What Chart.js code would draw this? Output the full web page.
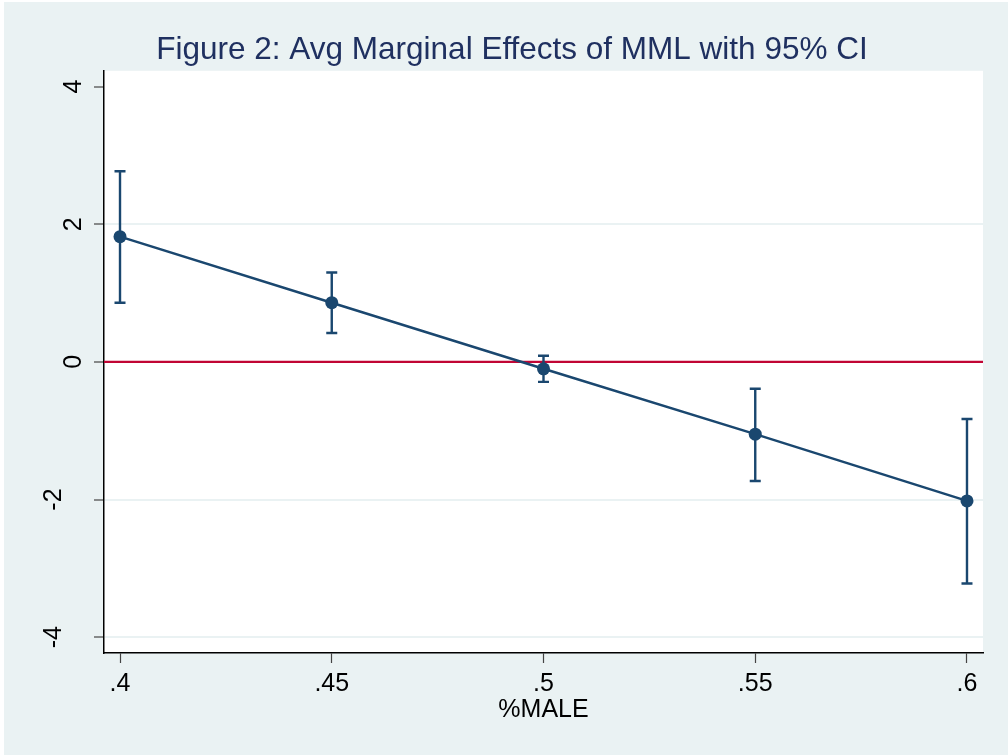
<!DOCTYPE html>
<html>
<head>
<meta charset="utf-8">
<script src="https://cdn.jsdelivr.net/npm/chart.js@4.4.0/dist/chart.umd.min.js"></script>
<style>
  html, body { margin: 0; padding: 0; background: #fff; }
  #wrap { position: absolute; left: 4px; top: 2px; }
</style>
</head>
<body>
<div id="wrap"><canvas id="chart" width="1004" height="753"></canvas></div>
<script>
'use strict';

// %MALE values where the effect is evaluated
var pctMale = [0.40, 0.45, 0.50, 0.55, 0.60];
// avg marginal effect of MML
var margEffect = [1.82, 0.86, -0.10, -1.05, -2.02];
// 95% CI bounds
var ciLower = [0.86, 0.42, -0.29, -1.73, -3.22];
var ciUpper = [2.77, 1.30, 0.09, -0.39, -0.83];

// axis ticks
var xTicks = [0.40, 0.45, 0.50, 0.55, 0.60];
var xTickLabels = ['.4', '.45', '.5', '.55', '.6'];
var yTicks = [-4, -2, 0, 2, 4];
var yTickLabels = ['-4', '-2', '0', '2', '4'];
var refValue = 0;

var NAVY = '#1a476f';
var CRANBERRY = '#c10534';
var BG = '#eaf2f3';
var FONT = '"Liberation Sans", Arial, Helvetica, sans-serif';

(function(){

	// figure background + white plot region
	var background = {
		id: 'background',
		beforeDraw: function(chart){
			var ctx = chart.ctx, a = chart.chartArea;
			ctx.save();
			ctx.fillStyle = BG;
			ctx.fillRect(0, 0, chart.width, chart.height);
			ctx.fillStyle = '#fff';
			ctx.fillRect(a.left, a.top, a.right - a.left, a.bottom - a.top);
			ctx.restore();
		}
	};

	// red line at zero, then the CI caps
	var refAndCI = {
		id: 'refAndCI',
		beforeDatasetsDraw: function(chart){
			var ctx = chart.ctx, a = chart.chartArea;
			var xs = chart.scales.x, ys = chart.scales.y;
			ctx.save();
			var y0 = ys.getPixelForValue(refValue);
			ctx.strokeStyle = CRANBERRY;
			ctx.lineWidth = 2.2;
			ctx.beginPath();
			ctx.moveTo(a.left, y0);
			ctx.lineTo(a.right, y0);
			ctx.stroke();

			ctx.strokeStyle = NAVY;
			ctx.lineWidth = 2.4;
			for (var i = 0; i < pctMale.length; i++) {
				var x = xs.getPixelForValue(pctMale[i]);
				var lo = ys.getPixelForValue(ciLower[i]);
				var hi = ys.getPixelForValue(ciUpper[i]);
				ctx.beginPath();
				ctx.moveTo(x, lo); ctx.lineTo(x, hi);
				ctx.moveTo(x - 5.5, lo); ctx.lineTo(x + 5.5, lo);
				ctx.moveTo(x - 5.5, hi); ctx.lineTo(x + 5.5, hi);
				ctx.stroke();
			}
			ctx.restore();
		}
	};

	// rotated y labels (negatives sit further out, as in the original)
	var yLabels = {
		id: 'yLabels',
		afterDraw: function(chart){
			var ctx = chart.ctx, ys = chart.scales.y;
			ctx.save();
			ctx.fillStyle = '#000';
			ctx.font = '25px ' + FONT;
			ctx.textAlign = 'center';
			ctx.textBaseline = 'middle';
			ys.ticks.forEach(function(t, i){
				var y = ys.getPixelForValue(t.value);
				var x = ys.right - (t.value < 0 ? 50 : 30);
				ctx.save();
				ctx.translate(x, y);
				ctx.rotate(-Math.PI / 2);
				ctx.fillText(yTickLabels[i], 0, 0);
				ctx.restore();
			});
			ctx.restore();
		}
	};

	var points = pctMale.map(function(v, i){ return {x: v, y: margEffect[i]}; });

	var ctx = document.getElementById('chart').getContext('2d');
	new Chart(ctx, {
		type: 'line',
		data: {
			datasets: [{
				data: points,
				borderColor: NAVY,
				backgroundColor: NAVY,
				borderWidth: 2.5,
				pointRadius: 6.5,
				pointBorderWidth: 0,
				pointBackgroundColor: NAVY,
				tension: 0
			}]
		},
		options: {
			responsive: false,
			animation: false,
			events: [],
			layout: { padding: { left: 37, right: 25, top: 0, bottom: 0 } },
			plugins: {
				legend: { display: false },
				tooltip: { enabled: false },
				title: {
					display: true,
					text: 'Figure 2: Avg Marginal Effects of MML with 95% CI',
					color: '#1f3060',
					font: { family: FONT, size: 31.5, weight: 'normal', lineHeight: 1.2 },
					padding: { top: 29, bottom: 2 }
				}
			},
			scales: {
				x: {
					type: 'linear',
					min: 0.39622,
					max: 0.60378,
					afterBuildTicks: function(scale){
						scale.ticks = xTicks.map(function(v){ return {value: v}; });
					},
					afterFit: function(scale){ scale.height = 102; },
					ticks: {
						color: '#000',
						font: { family: FONT, size: 25 },
						padding: 6,
						maxRotation: 0,
						autoSkip: false,
						callback: function(v, i){ return xTickLabels[i]; }
					},
					grid: {
						drawOnChartArea: false,
						drawTicks: true,
						tickLength: 10,
						tickColor: '#444',
						tickWidth: 1.2
					},
					border: { display: true, color: '#000', width: 1.5 },
					title: {
						display: true,
						text: '%MALE',
						color: '#000',
						font: { family: FONT, size: 25, lineHeight: 1.2 },
						padding: { top: 0, bottom: 30 }
					}
				},
				y: {
					type: 'linear',
					min: -4.23,
					max: 4.23,
					afterBuildTicks: function(scale){
						scale.ticks = yTicks.map(function(v){ return {value: v}; });
					},
					afterFit: function(scale){ scale.width = 63; },
					ticks: { display: false },
					grid: {
						drawTicks: true,
						tickLength: 10,
						tickColor: '#444',
						tickWidth: 1.2,
						lineWidth: 2,
						color: function(c){
							// no grid line at the top label or under the zero line
							if (!c.tick || c.tick.value === 4 || c.tick.value === 0) return 'rgba(0,0,0,0)';
							return BG;
						}
					},
					border: { display: true, color: '#000', width: 1.5 }
				}
			}
		},
		plugins: [background, refAndCI, yLabels]
	});

})();
</script>
</body>
</html>
